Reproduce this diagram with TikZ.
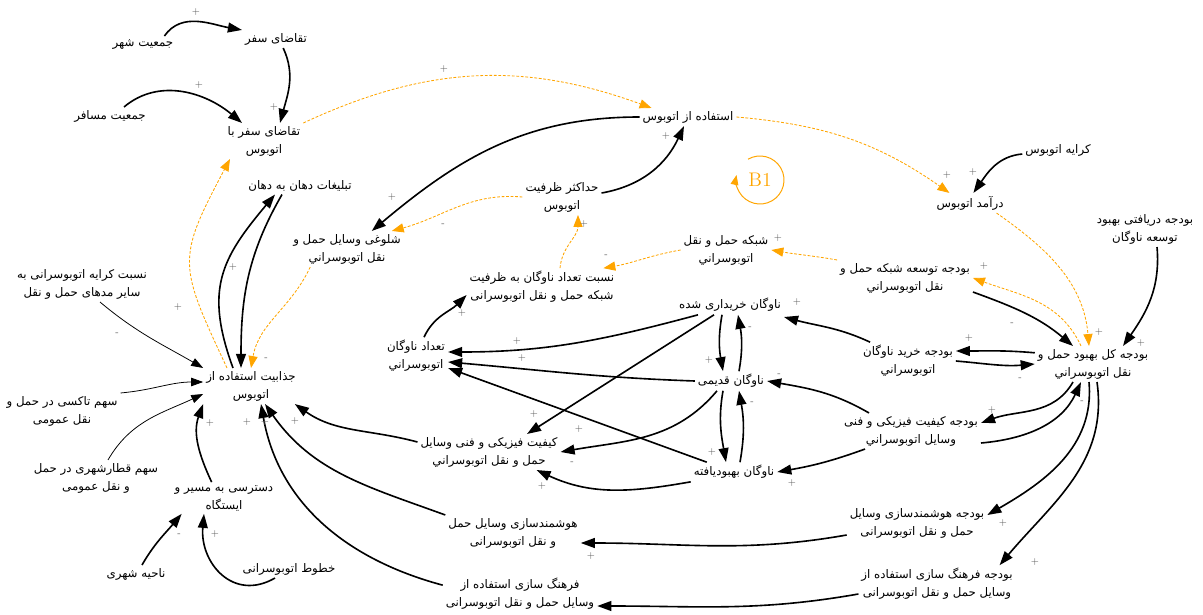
\documentclass[tikz,border=0pt]{standalone}
\usepackage{fontspec}
\usepackage{tikz}
\usetikzlibrary{arrows.meta, positioning}
\newfontfamily\farsi[Script=Arabic]{DejaVu Sans}
\TeXXeTstate=1
\newcommand{\fa}[1]{\beginR #1\endR}
\definecolor{oranyeLoop}{RGB}{255,165,0}

\begin{document}
\begin{tikzpicture}[x=0.025cm, y=0.025cm,
  var/.style={font=\farsi\fontsize{8.4}{12.8}\selectfont, align=center, inner sep=2pt},
  pan/.style={draw, line width=1.15pt, -{Triangle[length=10pt,width=7pt]}},
  panT/.style={draw, line width=0.55pt, -{Triangle[length=8.5pt,width=6pt]}},
  panO/.style={draw=oranyeLoop, line width=0.6pt, dash pattern=on 2pt off 1.2pt, -{Triangle[length=8.5pt,width=6.5pt]}},
  pol/.style={font=\sffamily\fontsize{7}{7}\selectfont, text=black!65, inner sep=0pt},
]
  \useasboundingbox (0,0) rectangle (1203,614);

  \node[var] at (143,570) (jamShahr) {\fa{جمعیت شهر}};
  \node[var] at (276,575) (taqazaSafar) {\fa{تقاضای سفر}};
  \node[var] at (110,498) (jamMosafer) {\fa{جمعیت مسافر}};
  \node[var] at (264,473) (taqazaBus) {\fa{تقاضای سفر با}\\\fa{اتوبوس}};
  \node[var] at (688,497) (estefade) {\fa{استفاده از اتوبوس}};
  \node[var] at (562,417) (zarfiat) {\fa{حداکثر ظرفیت}\\\fa{اتوبوس}};
  \node[var] at (1058,464) (keraye) {\fa{کرایه اتوبوس}};
  \node[var] at (970,411) (daramad) {\fa{درآمد اتوبوس}};
  \node[var] at (1145,385) (budDaryafti) {\fa{بودجه دریافتی بهبود}\\\fa{توسعه ناوگان}};
  \node[var] at (300,428) (tablighat) {\fa{تبلیغات دهان به دهان}};
  \node[var] at (347,365) (sholughi) {\fa{شلوغی وسایل حمل و}\\\fa{نقل اتوبوسراني}};
  \node[var] at (726,364) (shabake) {\fa{شبکه حمل و نقل}\\\fa{اتوبوسراني}};
  \node[var] at (905,336) (budShabake) {\fa{بودجه توسعه شبکه حمل و}\\\fa{نقل اتوبوسراني}};
  \node[var] at (542,327) (nesbatNavgan) {\fa{نسبت تعداد ناوگان به ظرفیت}\\\fa{شبکه حمل و نقل اتوبوسرانی}};
  \node[var] at (82,330) (nesbatKeraye) {\fa{نسبت کرایه اتوبوسرانی به}\\\fa{سایر مدهای حمل و نقل}};
  \node[var] at (416,258) (tedadNavgan) {\fa{تعداد ناوگان}\\\fa{اتوبوسراني}};
  \node[var] at (730,309) (navKharid) {\fa{ناوگان خریداری شده}};
  \node[var] at (731,233) (navQadimi) {\fa{ناوگان قدیمی}};
  \node[var] at (734,142) (navBehbud) {\fa{ناوگان بهبودیافته}};
  \node[var] at (908,253) (budKharid) {\fa{بودجه خرید ناوگان}\\\fa{اتوبوسراني}};
  \node[var] at (1093,250) (budKol) {\fa{بودجه کل بهبود حمل و}\\\fa{نقل اتوبوسراني}};
  \node[var] at (251,228) (jazabiat) {\fa{جذابیت استفاده از}\\\fa{اتوبوس}};
  \node[var] at (62,203) (sahmTaxi) {\fa{سهم تاکسی در حمل و}\\\fa{نقل عمومی}};
  \node[var] at (489,162) (keyfiat) {\fa{کیفیت فیزیکی و فنی وسایل}\\\fa{حمل و نقل اتوبوسراني}};
  \node[var] at (911,183) (budKeyfiat) {\fa{بودجه کیفیت فیزیکی و فنی}\\\fa{وسایل اتوبوسراني}};
  \node[var] at (96,136) (sahmQatar) {\fa{سهم قطارشهری در حمل}\\\fa{و نقل عمومی}};
  \node[var] at (224,116) (dastrasi) {\fa{دسترسی به مسیر و}\\\fa{ایستگاه}};
  \node[var] at (513,81) (hoshmand) {\fa{هوشمندسازی وسایل حمل}\\\fa{و نقل اتوبوسرانی}};
  \node[var] at (917,91) (budHoshmand) {\fa{بودجه هوشمندسازی وسایل}\\\fa{حمل و نقل اتوبوسرانی}};
  \node[var] at (136,40) (nahie) {\fa{ناحیه شهری}};
  \node[var] at (289,45) (khotut) {\fa{خطوط اتوبوسرانی}};
  \node[var] at (520,20) (farhang) {\fa{فرهنگ سازی استفاده از}\\\fa{وسایل حمل و نقل اتوبوسرانی}};
  \node[var] at (937,30) (budFarhang) {\fa{بودجه فرهنگ سازی استفاده از}\\\fa{وسایل حمل و نقل اتوبوسرانی}};

  \node[font=\fontsize{14}{14}\selectfont, text=oranyeLoop, inner sep=0pt] at (760,434) (loopB) {B1};
  \draw[oranyeLoop, line width=0.7pt, -{Triangle[length=7pt,width=5.5pt]}] (loopB.center) ++(120:0.6cm) arc[start angle=120, end angle=-192, radius=0.6cm];

  \draw[pan] ([xshift=-0.3cm]jamShahr.north east) to[out=55,in=170] (taqazaSafar.north west);
  \draw[pan] ([xshift=0.18cm]taqazaSafar.south) to[out=-65,in=75] ([xshift=0.4cm]taqazaBus.north);
  \draw[pan] ([xshift=0.35cm]jamMosafer.north) to[out=40,in=140] ([xshift=-0.55cm]taqazaBus.north);
  \draw[panO] (taqazaBus.north east) to[out=25,in=160] ([xshift=0.3cm]estefade.north west);
  \draw[pan] (estefade.west) to[out=180,in=40] ([xshift=-0.8cm]sholughi.north east);
  \draw[pan] ([yshift=0.1cm]zarfiat.east) to[out=10,in=-115] ([xshift=-0.1cm]estefade.south);
  \draw[panO] (zarfiat.west) to[out=175,in=15] ([xshift=-0.3cm]sholughi.north east);
  \draw[panO] (estefade.east) to[out=-5,in=145] ([xshift=0.4cm]daramad.north west);
  \draw[pan] ([yshift=-0.1cm]keraye.west) to[out=185,in=55] ([xshift=1.0cm]daramad.north west);
  \draw[panO] ([xshift=-0.25cm]daramad.south east) to[out=-35,in=95] ([xshift=-0.1cm]budKol.north);
  \draw[pan] ([xshift=0.3cm]budDaryafti.south) to[out=-85,in=55] ([xshift=0.75cm]budKol.north);
  \draw[panO] ([xshift=-0.3cm]budKol.north) to[out=115,in=-20] (budShabake.east);
  \draw[pan] ([yshift=0.1cm]budShabake.south east) to[out=-20,in=140] ([xshift=-0.5cm]budKol.north);
  \draw[panO] (budShabake.north west) to[out=170,in=-10] (shabake.east);
  \draw[panO] (shabake.west) to[out=190,in=10] ([xshift=-0.35cm]nesbatNavgan.north east);
  \draw[panO] ([xshift=0.45cm]nesbatNavgan.north) to[out=85,in=-90] ([xshift=0.4cm]zarfiat.south);
  \draw[pan] ([xshift=0.2cm]tedadNavgan.north) to[out=65,in=-135] ([yshift=-0.2cm]nesbatNavgan.west);
  \draw[panO] ([xshift=0.5cm]sholughi.south west) to[out=-115,in=80] (jazabiat.north);
  \draw[panO] ([xshift=-0.6cm]jazabiat.north) to[out=115,in=-118,looseness=1.4] ([xshift=-0.85cm]taqazaBus.south);
  \draw[pan] ([xshift=-0.45cm]jazabiat.north) to[out=110,in=-130,looseness=1.2] ([xshift=-0.625cm]tablighat.south);
  \draw[pan] ([xshift=-0.45cm]tablighat.south) to[out=-120,in=90] ([xshift=-0.25cm]jazabiat.north);
  \draw[panT] ([xshift=0.45cm]nesbatKeraye.south) to[out=-40,in=150] (jazabiat.north west);
  \draw[panT] (sahmTaxi.north east) to[out=5,in=180] ([yshift=0.1cm]jazabiat.west);
  \draw[panT] ([xshift=0.3cm]sahmQatar.north) to[out=60,in=205] ([yshift=-0.2cm]jazabiat.west);
  \draw[pan] ([xshift=1.0cm]dastrasi.north west) to[out=115,in=-110] (jazabiat.south west);
  \draw[pan] (hoshmand.north west) to[out=160,in=-55] ([xshift=0.35cm]jazabiat.south);
  \draw[pan] ([yshift=0.25cm]keyfiat.west) to[out=165,in=-35] ([xshift=-0.1cm]jazabiat.south east);
  \draw[pan] ([yshift=-0.25cm]farhang.north west) to[out=165,in=-80] ([xshift=0.25cm]jazabiat.south);
  \draw[pan] ([xshift=0.15cm]nahie.north) to[out=60,in=-130] ([xshift=0.25cm]dastrasi.south west);
  \draw[pan] ([xshift=-0.35cm]khotut.south) to[out=-150,in=-95,looseness=1.3] ([xshift=-0.5cm]dastrasi.south);
  \draw[pan] ([yshift=0.28cm]budKol.west) to[out=175,in=0] ([yshift=0.25cm]budKharid.east);
  \draw[pan] (budKharid.east) to[out=-5,in=185] (budKol.west);
  \draw[pan] ([xshift=0.25cm]budKharid.north west) to[out=155,in=-15] ([yshift=-0.3cm]navKharid.east);
  \draw[pan] ([xshift=0.7cm]budKeyfiat.north west) to[out=150,in=-10] (navQadimi.east);
  \draw[pan] ([xshift=0.6cm]budKeyfiat.south west) to[out=-160,in=10] (navBehbud.east);
  \draw[pan] ([xshift=-0.2cm]navKharid.south) to[out=-100,in=100] ([xshift=-0.2cm]navQadimi.north);
  \draw[pan] ([xshift=0.2cm]navQadimi.north) to[out=80,in=-80] ([xshift=0.2cm]navKharid.south);
  \draw[pan] ([xshift=-0.2cm]navQadimi.south) to[out=-100,in=100] ([xshift=-0.2cm]navBehbud.north);
  \draw[pan] ([xshift=0.15cm]navBehbud.north) to[out=80,in=-80] ([xshift=0.2cm]navQadimi.south);
  \draw[pan] ([xshift=-0.8cm]navKharid.south) to[out=-165,in=0] ([yshift=0.1cm]tedadNavgan.east);
  \draw[pan] (navQadimi.west) to[out=178,in=-5] ([yshift=-0.15cm]tedadNavgan.east);
  \draw[pan] ([xshift=0.4cm]navBehbud.north west) to[out=160,in=-20] ([yshift=-0.3cm]tedadNavgan.east);
  \draw[pan] ([xshift=-0.4cm]navKharid.south) -- ([xshift=0.95cm]keyfiat.north);
  \draw[pan] ([xshift=-0.35cm]navQadimi.south) to[out=-130,in=10] (keyfiat.east);
  \draw[pan] (navBehbud.south west) to[out=-170,in=-25] ([xshift=-0.6cm]keyfiat.south east);
  \draw[pan] ([xshift=-0.5cm]budKol.south) to[out=-120,in=20] ([yshift=0.2cm]budKeyfiat.east);
  \draw[pan] ([yshift=-0.3cm]budKeyfiat.east) to[out=5,in=-115] ([xshift=-0.3cm]budKol.south);
  \draw[pan] ([xshift=-0.1cm]budKol.south) to[out=-85,in=30] ([yshift=0.2cm]budHoshmand.east);
  \draw[pan] ([xshift=0.1cm]budKol.south) to[out=-82,in=50] ([xshift=-0.4cm]budFarhang.north east);
  \draw[pan] ([yshift=-0.3cm]budHoshmand.west) to[out=190,in=0] ([yshift=-0.25cm]hoshmand.east);
  \draw[pan] ([yshift=-0.25cm]budFarhang.west) to[out=190,in=0] ([yshift=-0.3cm]farhang.east);

  \foreach \px/\py/\s [count=\i] in {196/602/+, 274/507/+, 199/529/+, 444/545/+, 392/417/+,
      666/478/+, 443/389/-, 947/439/+, 973/442/+, 1099/282/+, 1141/271/+, 984/348/+,
      1012/290/-, 778/376/+, 606/358/-, 584/390/+, 462/301/+, 266/255/-, 178/307/+,
      233/347/+, 117/280/-, 210/191/+, 247/192/+, 265/192/+, 295/193/+, 179/79/-,
      215/80/+, 969/276/+, 1020/235/-, 797/312/+, 779/239/-, 792/131/+, 709/254/+,
      750/286/-, 712/162/+, 752/211/-, 517/273/+, 522/256/+, 579/185/+, 534/200/+,
      572/151/-, 542/128/+, 992/204/+, 1082/212/-, 1003/91/+, 1035/52/+, 591/58/+}
    \node[pol] (p\i) at (\px,\py) {\s};
\end{tikzpicture}
\end{document}
